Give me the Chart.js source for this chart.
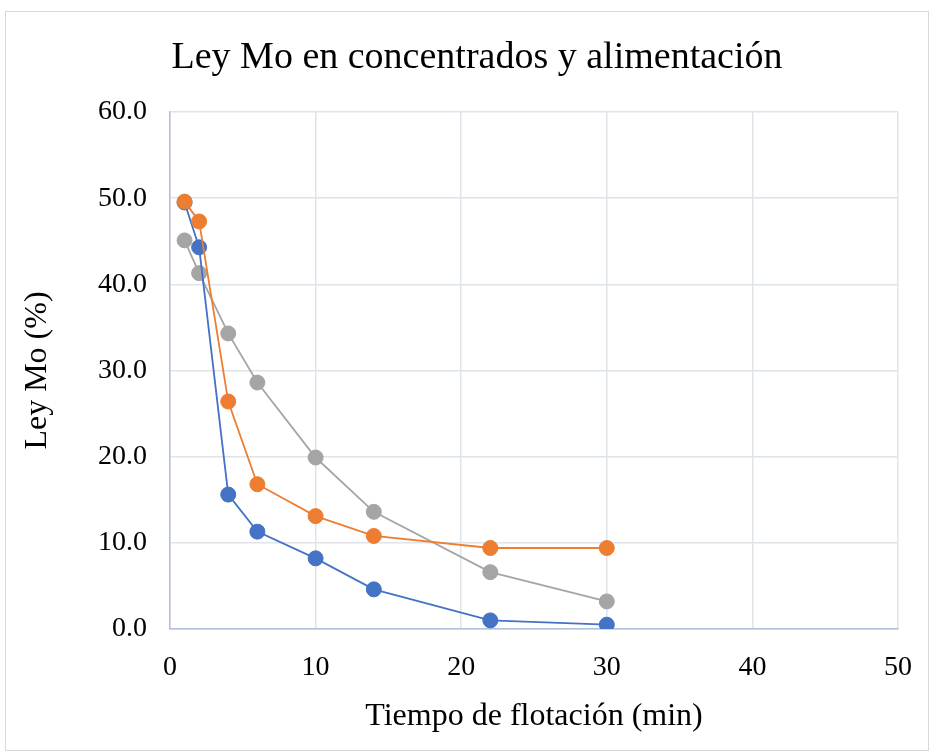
<!DOCTYPE html>
<html>
<head>
<meta charset="utf-8">
<script src="https://cdn.jsdelivr.net/npm/chart.js@4"></script>
<style>
  html, body { margin: 0; padding: 0; background: #fff; }
  #wrap { position: relative; width: 934px; height: 756px; }
  #frame { position: absolute; left: 5px; top: 11px; width: 924px; height: 740px; border: 1px solid #d9d9d9; box-sizing: border-box; pointer-events: none; }
</style>
</head>
<body>
<div id="wrap">
  <canvas id="chart" width="934" height="756"></canvas>
  <div id="frame"></div>
</div>
<script>
// Tiempo de flotación (min) y ley de Mo (%) por serie
const tiempo = [1, 2, 4, 6, 10, 14, 22, 30];
const leyAzul = [49.5, 44.3, 15.6, 11.3, 8.2, 4.6, 1.0, 0.5];
const leyNaranja = [49.6, 47.3, 26.4, 16.8, 13.1, 10.8, 9.4, 9.4];
const leyGris = [45.1, 41.3, 34.3, 28.6, 19.9, 13.6, 6.6, 3.2];

const titulo = 'Ley Mo en concentrados y alimentación';
const fuente = 'Liberation Serif, Times New Roman, serif';

function puntos(valores) {
    return tiempo.map((t, i) => ({ x: t, y: valores[i] }));
}

function serie(valores, color, orden) {
    return {
        data: puntos(valores),
        borderColor: color,
        backgroundColor: color,
        borderWidth: 1.8,
        pointRadius: 7.5,
        pointHoverRadius: 7.5,
        pointBorderWidth: 1,
        showLine: true,
        order: orden
    };
}

// el título va un poco a la derecha del centro del lienzo
const tituloPlugin = {
    id: 'tituloGrafico',
    afterDraw(chart) {
        const c = chart.ctx;
        c.save();
        c.font = '38px ' + fuente;
        c.fillStyle = '#000';
        c.textAlign = 'center';
        c.textBaseline = 'middle';
        c.fillText(titulo, 477, 58);
        c.restore();
    }
};

const ctx = document.getElementById('chart').getContext('2d');

new Chart(ctx, {
    type: 'scatter',
    data: {
        datasets: [
            serie(leyAzul, '#4472c4', 1),
            serie(leyNaranja, '#ed7d31', 0),
            serie(leyGris, '#a5a5a5', 2)
        ]
    },
    plugins: [tituloPlugin],
    options: {
        responsive: false,
        animation: false,
        layout: { padding: { left: 0, right: 26, top: 112, bottom: 0 } },
        plugins: {
            legend: { display: false },
            tooltip: { enabled: false },
            title: { display: false }
        },
        scales: {
            x: {
                type: 'linear',
                min: 0,
                max: 50,
                ticks: {
                    stepSize: 10,
                    color: '#000',
                    padding: 22,
                    font: { family: fuente, size: 28 }
                },
                grid: { color: '#dfe3ea', lineWidth: 1.5, drawTicks: false },
                border: { color: '#b4c0d8', width: 1.5 },
                title: {
                    display: true,
                    text: 'Tiempo de flotación (min)',
                    color: '#000',
                    font: { family: fuente, size: 32 },
                    padding: { top: 4, bottom: 20 }
                },
                afterFit: function(scale) { scale.height = 127; }
            },
            y: {
                min: 0,
                max: 60,
                ticks: {
                    stepSize: 10,
                    color: '#000',
                    padding: 23,
                    font: { family: fuente, size: 28 },
                    callback: v => v.toFixed(1)
                },
                grid: { color: '#dfe3ea', lineWidth: 1.5, drawTicks: false },
                border: { color: '#b4c0d8', width: 1.5 },
                title: {
                    display: true,
                    text: 'Ley Mo (%)',
                    color: '#000',
                    font: { family: fuente, size: 32 },
                    padding: { top: 18, bottom: 0 }
                },
                afterFit: function(scale) { scale.width = 170; }
            }
        }
    }
});
</script>
</body>
</html>
